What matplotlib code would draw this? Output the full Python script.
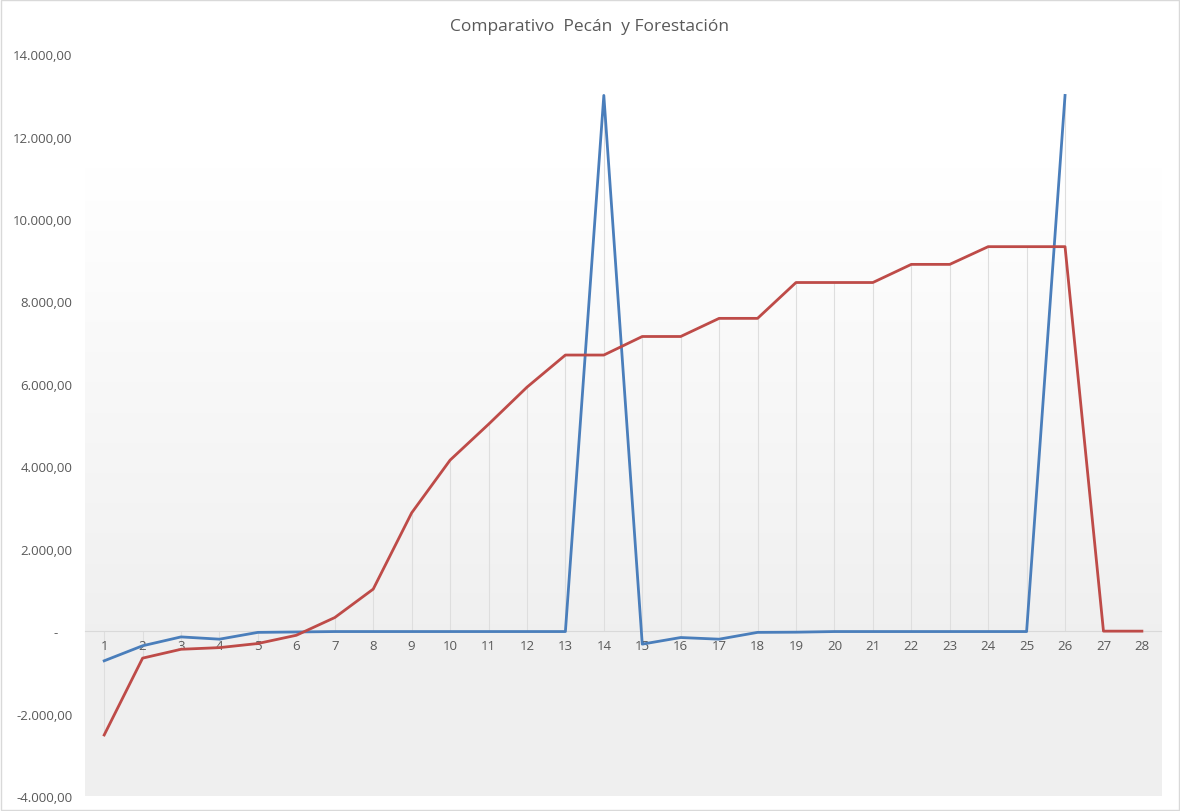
import numpy as np
import matplotlib.pyplot as plt
from matplotlib.patches import Rectangle
from matplotlib.ticker import FuncFormatter

plt.rcParams['font.family'] = ['Open Sans', 'DejaVu Sans']

periodos = list(range(1, 29))
pecan = [-720, -355, -140, -195, -30, -20, -10, -10, -10, -10, -10, -10, -10, 13000,
         -315, -155, -195, -30, -25, -10, -10, -10, -10, -10, -10, 13000, np.nan, np.nan]
forestacion = [-2520, -655, -440, -400, -300, -100, 330, 1020, 2870, 4150, 5020, 5920, 6700, 6700,
               7150, 7150, 7590, 7590, 8460, 8460, 8460, 8900, 8900, 9330, 9330, 9330, 0, 0]
titulo = 'Comparativo  Pecán  y Forestación'

fig = plt.figure(figsize=(11.8, 8.12), dpi=100)
ax = fig.add_axes([0.072, 0.0185, 0.912, 0.9135])

x = np.array(periodos)
p = np.array(pecan, dtype=float)
f = np.array(forestacion, dtype=float)

# gradient background, white on top to light gray at the bottom
grad = np.linspace(1, 0, 256).reshape(-1, 1)
grad = np.clip(grad * 1.6 - 0.35, 0, 1)
col_top = np.array([1.0, 1.0, 1.0])
col_bot = np.array([0.94, 0.94, 0.94])
img = col_bot + (col_top - col_bot) * grad[..., None]
ax.imshow(img, extent=[0, 1, 0, 1], transform=ax.transAxes, aspect='auto', zorder=0)

# drop lines
both = np.vstack([p, f])
lo = np.minimum(0, np.nanmin(both, axis=0))
hi = np.maximum(0, np.nanmax(both, axis=0))
ax.vlines(x, lo, hi, color='#dedede', lw=0.8, zorder=1)

ax.plot(x, p, color='#4a7ebb', lw=2, zorder=3)
ax.plot(x, f, color='#be4b48', lw=2, zorder=3)

ax.set_xlim(0.5, 28.5)
ax.set_ylim(-4000, 14000)
ax.set_yticks(np.arange(-4000, 14001, 2000))


def fmt(v, pos):
    if v == 0:
        return '-    '
    s = '{:,.2f}'.format(v)
    return s.replace(',', 'X').replace('.', ',').replace('X', '.')


ax.yaxis.set_major_formatter(FuncFormatter(fmt))
ax.set_xticks(x)
ax.set_xticklabels([str(v) for v in periodos])

for s in ['top', 'right', 'left']:
    ax.spines[s].set_visible(False)
ax.spines['bottom'].set_position(('data', 0))
ax.spines['bottom'].set_color('#d9d9d9')
ax.spines['bottom'].set_zorder(2)
ax.tick_params(axis='x', length=0, pad=6, labelsize=9.5, labelcolor='#595959')
ax.tick_params(axis='y', length=0, pad=9, labelsize=9.5, labelcolor='#595959')

fig.text(0.5, 0.967, titulo, ha='center', va='center', fontsize=12.5, color='#595959')

fig.patches.append(Rectangle((0.001, 0.001), 0.998, 0.998, transform=fig.transFigure,
                             fill=False, edgecolor='#d9d9d9', lw=1))

fig.savefig('out.png', dpi=100)
